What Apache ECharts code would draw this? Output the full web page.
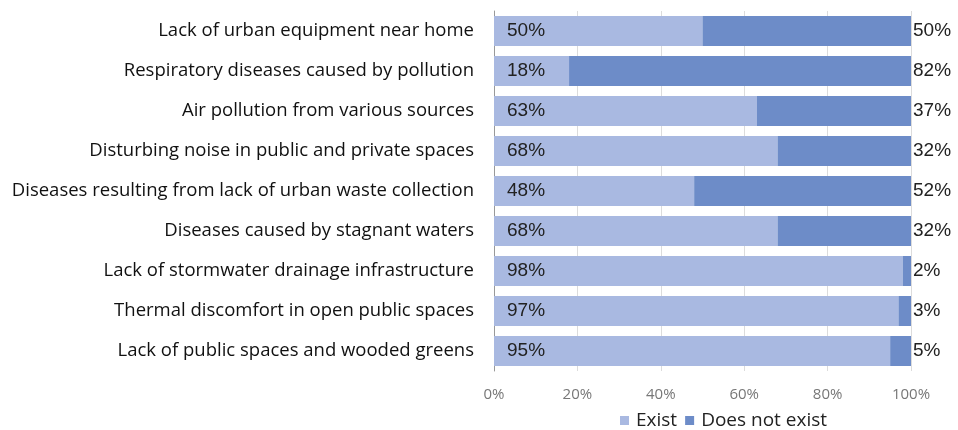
<!DOCTYPE html>
<html><head><meta charset="utf-8">
<script src="https://cdn.jsdelivr.net/npm/echarts@6/dist/echarts.min.js"></script>
<style>html,body{margin:0;padding:0;background:#fff}#c{width:958px;height:430px}</style>
</head><body><div id="c"></div>
<script>
const categories = [
  "Lack of urban equipment near home",
  "Respiratory diseases caused by pollution",
  "Air pollution from various sources",
  "Disturbing noise in public and private spaces",
  "Diseases resulting from lack of urban waste collection",
  "Diseases caused by stagnant waters",
  "Lack of stormwater drainage infrastructure",
  "Thermal discomfort in open public spaces",
  "Lack of public spaces and wooded greens"
];
const exist = [50, 18, 63, 68, 48, 68, 98, 97, 95];
const notExist = [50, 82, 37, 32, 52, 32, 2, 3, 5];
const xTicks = [0, 20, 40, 60, 80, 100];

const chart = echarts.init(document.getElementById('c'));
chart.setOption({
  animation: false,
  grid: {left: 494, right: 47, top: 11, bottom: 59},
  legend: {
    top: 406, left: 615, itemWidth: 9, itemHeight: 9, itemGap: 8,
    icon: 'rect',
    textStyle: {fontFamily: 'Open Sans', fontSize: 19, color: '#222', padding: [0, 0, 0, 2]},
    data: ['Exist', 'Does not exist']
  },
  xAxis: {
    type: 'value', min: 0, max: 100, interval: 20,
    axisLine: {show: false}, axisTick: {show: false},
    splitLine: {lineStyle: {color: '#dcdcdc'}},
    axisLabel: {formatter: v => xTicks.includes(v) ? v + '%' : '', color: '#777', fontFamily: 'Open Sans', fontSize: 15, margin: 16}
  },
  yAxis: {
    type: 'category', data: categories, inverse: true,
    axisLine: {show: true, lineStyle: {color: '#999'}},
    axisTick: {show: false},
    axisLabel: {color: '#111', fontFamily: 'Open Sans', fontSize: 18.5, margin: 20}
  },
  series: [
    {
      name: 'Exist', type: 'bar', stack: 's', data: exist, barWidth: '75%',
      itemStyle: {color: '#a9b9e1'},
      label: {show: true, position: 'insideLeft', distance: 13, formatter: '{c}%', color: '#222', fontFamily: 'Liberation Sans', fontSize: 19}
    },
    {
      name: 'Does not exist', type: 'bar', stack: 's', data: notExist, barWidth: '75%',
      itemStyle: {color: '#6d8cc8'},
      label: {show: true, position: 'right', distance: 2, formatter: '{c}%', color: '#222', fontFamily: 'Liberation Sans', fontSize: 19}
    }
  ]
});
</script></body></html>
